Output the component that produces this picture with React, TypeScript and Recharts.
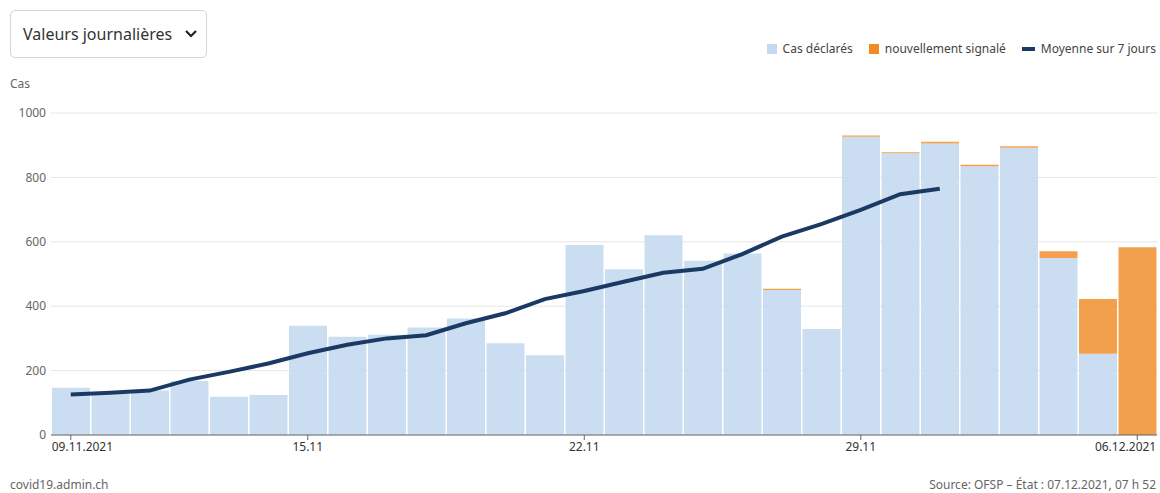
import {
  ComposedChart,
  Bar,
  Line,
  XAxis,
  YAxis,
  CartesianGrid,
} from 'recharts'

const days = [
  '09.11', '10.11', '11.11', '12.11', '13.11', '14.11', '15.11',
  '16.11', '17.11', '18.11', '19.11', '20.11', '21.11', '22.11',
  '23.11', '24.11', '25.11', '26.11', '27.11', '28.11', '29.11',
  '30.11', '01.12', '02.12', '03.12', '04.12', '05.12', '06.12',
]
const declared = [
  147, 130, 138, 168, 119, 124, 339, 305, 311, 334, 362, 285, 248, 590,
  515, 620, 541, 564, 450, 329, 926, 875, 905, 835, 892, 550, 252, 0,
]
const newlyReported = [
  0, 0, 0, 0, 0, 0, 0, 0, 0, 0, 0, 0, 0, 0,
  0, 0, 0, 0, 4, 0, 4, 3, 6, 4, 5, 21, 170, 583,
]
const avg7 = [
  126, 131, 138, 172, 196, 222, 254, 280, 300, 310, 347, 378, 422, 447,
  476, 504, 516, 562, 616, 655, 699, 748, 765, null, null, null, null, null,
]
const xTicks = ['09.11', '15.11', '22.11', '29.11', '06.12']
const yTicks = [0, 200, 400, 600, 800, 1000]

const data = days.map((d, i) => ({
  day: d,
  declared: declared[i],
  newly: newlyReported[i],
  avg: avg7[i],
}))

const FONT = '"Noto Sans", sans-serif'
const GREY = '#666'

function DateTick(props: any) {
  const { x, y, payload } = props
  const first = payload.value === days[0]
  const last = payload.value === days[days.length - 1]
  const label = first || last ? payload.value + '.2021' : payload.value
  const anchor = first ? 'start' : last ? 'end' : 'middle'
  const dx = first ? -19 : last ? 19 : 0
  return (
    <text x={x + dx} y={y} dy="0.71em" textAnchor={anchor} fill="#333" fontSize={12} fontFamily={FONT}>
      {label}
    </text>
  )
}

function LegendItem({ color, label, line }: { color: string; label: string; line?: boolean }) {
  return (
    <div style={{ display: 'flex', alignItems: 'center', gap: 6 }}>
      <div style={{ width: line ? 13 : 10, height: line ? 4 : 10, background: color }} />
      <span>{label}</span>
    </div>
  )
}

export default function App() {
  return (
    <div style={{ position: 'absolute', left: 0, top: 0, width: 1160, height: 493, background: '#fff', fontFamily: FONT, overflow: 'hidden' }}>
      <div
        style={{
          position: 'absolute', left: 10, top: 10, width: 197, height: 48,
          border: '1px solid #d5d5d5', borderRadius: 5, display: 'flex', alignItems: 'center',
          paddingLeft: 12, boxSizing: 'border-box', fontSize: 16, color: '#333',
        }}
      >
        <span>Valeurs journalières</span>
        <svg width="14" height="10" style={{ marginLeft: 12 }} viewBox="0 0 14 10">
          <polyline points="2,2 7,7 12,2" fill="none" stroke="#222" strokeWidth="2.2" />
        </svg>
      </div>

      <div
        style={{
          position: 'absolute', right: 4, top: 40, display: 'flex', gap: 16,
          fontSize: 12, color: '#444',
        }}
      >
        <LegendItem color="#c5daf0" label="Cas déclarés" />
        <LegendItem color="#f28b21" label="nouvellement signalé" />
        <LegendItem color="#1a3a63" label="Moyenne sur 7 jours" line />
      </div>

      <div style={{ position: 'absolute', left: 10, top: 75, fontSize: 12, color: GREY }}>Cas</div>

      <div style={{ position: 'absolute', left: 0, top: 0 }}>
        <ComposedChart
          width={1160}
          height={470}
          data={data}
          margin={{ top: 113, right: 3, bottom: 5, left: 0 }}
          barCategoryGap={1}
        >
          <CartesianGrid vertical={false} stroke="#e6e6e6" />
          <XAxis
            dataKey="day"
            ticks={xTicks}
            interval={0}
            tick={<DateTick />}
            tickSize={5}
            stroke="#666"
            height={30}
          />
          <YAxis
            domain={[0, 1000]}
            ticks={yTicks}
            axisLine={false}
            tickLine={false}
            tickSize={3}
            width={51}
            tick={{ fill: GREY, fontSize: 12, fontFamily: FONT }}
          />
          <Bar dataKey="declared" stackId="a" fill="#c5daf0" fillOpacity={0.9} isAnimationActive={false} />
          <Bar dataKey="newly" stackId="a" fill="#f2963a" fillOpacity={0.9} isAnimationActive={false} />
          <Line
            dataKey="avg"
            type="linear"
            stroke="#1a3a63"
            strokeWidth={4}
            dot={false}
            activeDot={false}
            isAnimationActive={false}
          />
        </ComposedChart>
      </div>

      <div style={{ position: 'absolute', left: 10, top: 477, fontSize: 12, lineHeight: '15px', color: GREY }}>covid19.admin.ch</div>
      <div style={{ position: 'absolute', right: 4, top: 477, fontSize: 12, lineHeight: '15px', color: GREY }}>
        Source: OFSP – État : 07.12.2021, 07 h 52
      </div>
    </div>
  )
}
